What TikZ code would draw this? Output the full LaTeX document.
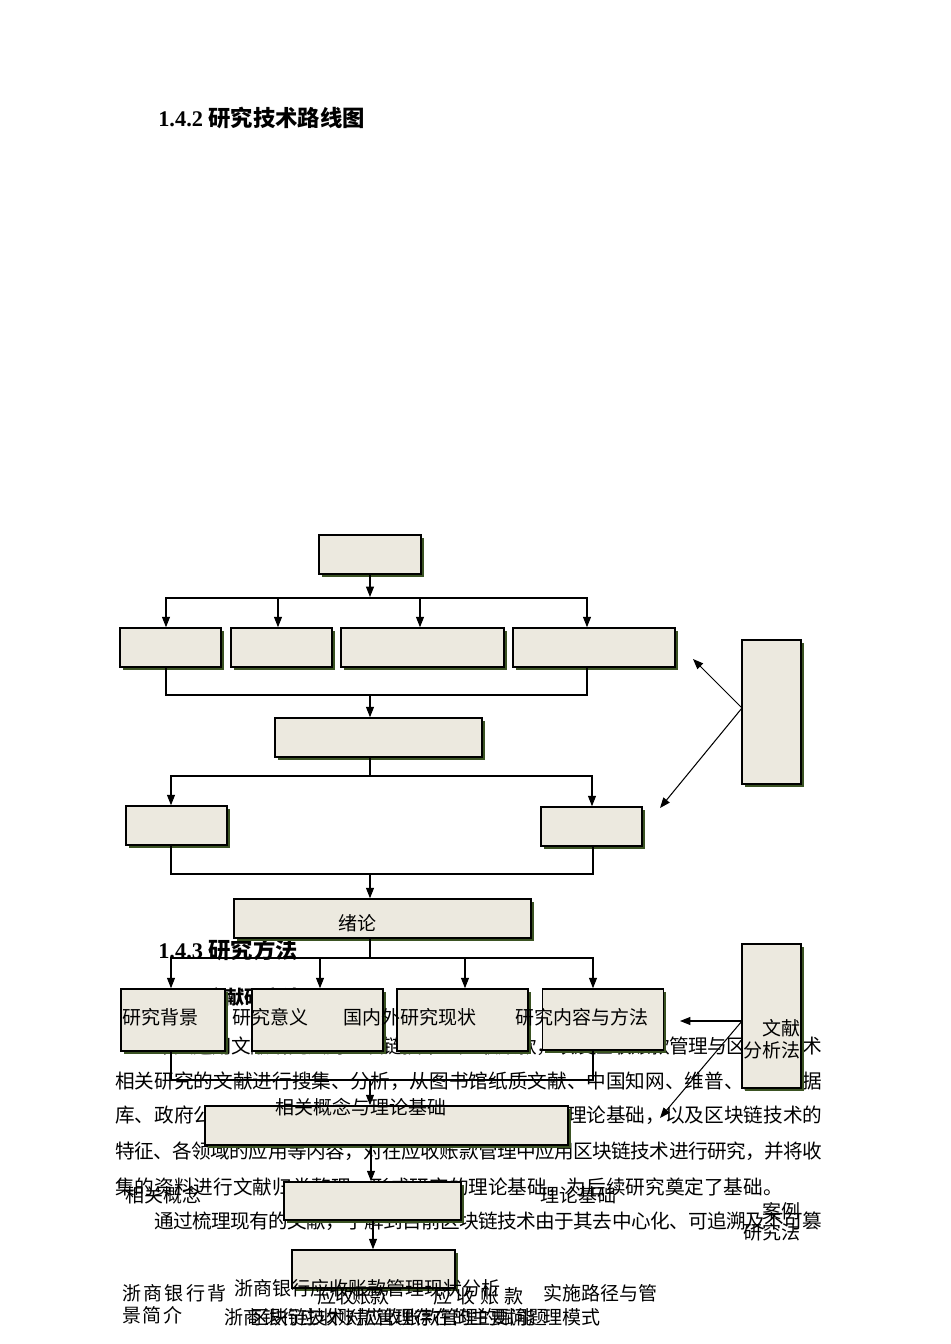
\documentclass[tikz,border=0pt]{standalone}
\usepackage{fontspec}
\setmainfont{Liberation Serif}
\newfontfamily\cjk{Noto Sans CJK SC}
\usetikzlibrary{arrows.meta,shadows}
\definecolor{BoxFill}{HTML}{ECE9DF}
\definecolor{BoxShade}{HTML}{3B5323}
\newdimen\pxu \pxu=0.6265pt
\makeatletter
\def\spreadline#1#2{\hbox to #1{\spread@first#2\@nil}}
\def\spread@first#1{#1\spread@next}
\def\spread@next#1{\ifx#1\@nil\else\hss#1\expandafter\spread@next\fi}
\makeatother
\tikzset{
  box/.style={draw,line width=1pt,fill=BoxFill,inner sep=0pt,
    drop shadow={shadow xshift=2.5*\pxu,shadow yshift=-3*\pxu,fill=BoxShade,opacity=1}},
  wh/.style 2 args={minimum width=#1*\pxu,minimum height=#2*\pxu},
  link/.style={line width=0.65pt},
  arr/.style={link,-{Triangle[length=6.5pt,width=5pt]}},
  head/.style={font=\fontsize{14}{16}\selectfont\cjk\bfseries,inner sep=0pt,anchor=west},
  subhead/.style={font=\fontsize{12}{14}\selectfont\cjk\bfseries,inner sep=0pt,anchor=west},
  body/.style={font=\fontsize{12.3}{14}\selectfont\cjk,inner sep=0pt,anchor=west},
  lab/.style={font=\fontsize{11.9}{14}\selectfont\cjk,inner sep=0pt,anchor=west}
}
\begin{document}
\begin{tikzpicture}[x=0.6265pt,y=-0.6265pt]
  \useasboundingbox (0,0) rectangle (950,1344);

  % headings
  \node[head] (h142) at (158,118) {{\rmfamily 1.4.2 }研究技术路线图};
  \node[head] (h143) at (158,950) {{\rmfamily 1.4.3 }研究方法};
  \node[subhead] (hlit) at (206,997) {文献研究法};

  % body text
  \node[body] (p1) at (155,1046) {\spreadline{667\pxu}{本文运用文献研究法对区块链技术、应收账款，以及应收账款管理与区块链技术}};
  \node[body] (p2) at (115,1081) {\spreadline{707\pxu}{相关研究的文献进行搜集、分析，从图书馆纸质文献、中国知网、维普、万方数据}};
  \node[body] (p3) at (115,1115) {\spreadline{707\pxu}{库、政府公开资料等渠道搜集应收账款管理的概念与理论基础，以及区块链技术的}};
  \node[body] (p4) at (115,1151) {\spreadline{707\pxu}{特征、各领域的应用等内容，对在应收账款管理中应用区块链技术进行研究，并将收}};
  \node[body] (p5) at (115,1187) {集的资料进行文献归类整理，形成研究的理论基础，为后续研究奠定了基础。};
  \node[body] (p6) at (154,1221) {\spreadline{668\pxu}{通过梳理现有的文献，了解到目前区块链技术由于其去中心化、可追溯及不可篡}};

  % upper chart
  \node[box,wh={102}{39}] (t0) at (370,554.5) {};
  \node[box,wh={101}{39}] (t1) at (170.5,647.5) {};
  \node[box,wh={101}{39}] (t2) at (281.5,647.5) {};
  \node[box,wh={163}{39}] (t3) at (422.5,647.5) {};
  \node[box,wh={162}{39}] (t4) at (594,647.5) {};
  \node[box,wh={207}{39}] (t5) at (378.5,737.5) {};
  \node[box,wh={101}{39}] (t6) at (176.5,825.5) {};
  \node[box,wh={101}{39}] (t7) at (591.5,826.5) {};
  \node[box,wh={59}{144}] (tside) at (771.5,712) {};

  \draw[arr] (t0) -- (370,597);
  \foreach \x/\n in {166/t1,278/t2,420/t3,587/t4}
    \draw[arr] (370,598) -| (\x,0 |- \n.north);
  \draw[link] (166,0 |- t1.south) |- (587,695) -- (587,0 |- t4.south);
  \draw[arr] (370,695) -- (370,0 |- t5.north);
  \draw[link] (370,0 |- t5.south) -- (370,776);
  \draw[arr] (370,776) -| (171,0 |- t6.north);
  \draw[arr] (370,776) -| (592,0 |- t7.north);
  \draw[link] (171,0 |- t6.south) |- (593,874) -- (593,0 |- t7.south);
  \coordinate (tup) at (693,659);
  \coordinate (tdown) at (660,808);
  \draw[arr] (742,708) -- (tup);
  \draw[arr] (742,708) -- (tdown);

  % lower chart
  \node[box,wh={297}{39}] (intro) at (382.5,918.5) {};
  \node[box,wh={104}{62}] (bkg) at (173,1020) {};
  \node[box,wh={131}{62}] (sig) at (317.5,1020) {};
  \node[box,wh={131}{62}] (lit) at (462.5,1020) {};
  \node[box,wh={121}{61}] (meth) at (603,1019.5) {};
  \node[box,wh={59}{144}] (wx) at (771.5,1016) {};
  \node[box,wh={363}{39}] (theory) at (386.5,1125.5) {};
  \node[box,wh={177}{38}] (status) at (372.5,1201) {};
  \node[box,wh={163}{38}] (path) at (373.5,1269) {};

  \draw[arr] (370,874) -- (370,0 |- intro.north);
  \draw[link] (370,0 |- intro.south) -- (370,958);
  \foreach \x/\n in {171/bkg,320/sig,465/lit,593/meth}
    \draw[arr] (370,958) -| (\x,0 |- \n.north);
  \draw[link] (171,0 |- bkg.south) |- (593,1080) -- (593,0 |- meth.south);
  \draw[arr] (370,1080) -- (370,0 |- theory.north);
  \draw[arr] (371,0 |- theory.south) -- (371,0 |- status.north);
  \draw[arr] (373,0 |- status.south) -- (373,0 |- path.north);
  \coordinate (wleft) at (680,1021);
  \coordinate (wdown) at (660,1118);
  \draw[arr] (742,1021) -- (wleft);
  \draw[arr] (742,1021) -- (wdown);

  % labels
  \node[lab] (lintro) at (338,923) {绪论};
  \node[lab] (lbkg) at (122,1017) {研究背景};
  \node[lab] (lsig) at (232,1017) {研究意义};
  \node[lab] (llit) at (343,1017) {国内外研究现状};
  \node[lab] (lmeth) at (515,1017) {研究内容与方法};
  \node[lab,anchor=east] (lwx1) at (801,1028) {文献};
  \node[lab,anchor=east] (lwx2) at (801,1050) {分析法};
  \node[lab,anchor=center] (ltheory) at (361,1107) {相关概念与理论基础};
  \node[lab] (lconc) at (125,1195) {相关概念};
  \node[lab] (lbase) at (540,1195) {理论基础};
  \node[lab,anchor=east] (lcase1) at (801,1211) {案例};
  \node[lab,anchor=east] (lcase2) at (801,1232) {研究法};
  \node[lab] (lbank1) at (122,1293) {\spreadline{104\pxu}{浙商银行背}};
  \node[lab] (lbank2) at (122,1315) {\spreadline{60\pxu}{景简介}};
  \node[lab] (lnow) at (234,1288) {浙商银行应收账款管理现状分析};
  \node[lab] (lar1) at (317,1296) {\spreadline{72\pxu}{应收账款}};
  \node[lab] (lar2) at (433,1296) {\spreadline{90\pxu}{应收账款}};
  \node[lab] (lprob) at (224,1317) {浙商银行应收账款管理存在的主要问题};
  \node[lab] (lchain) at (250,1317) {区块链技术对应收账款管理的赋能};
  \node[lab] (lmode1) at (543,1293) {实施路径与管};
  \node[lab] (lmode2) at (543,1317) {理模式};
\end{tikzpicture}
\end{document}
